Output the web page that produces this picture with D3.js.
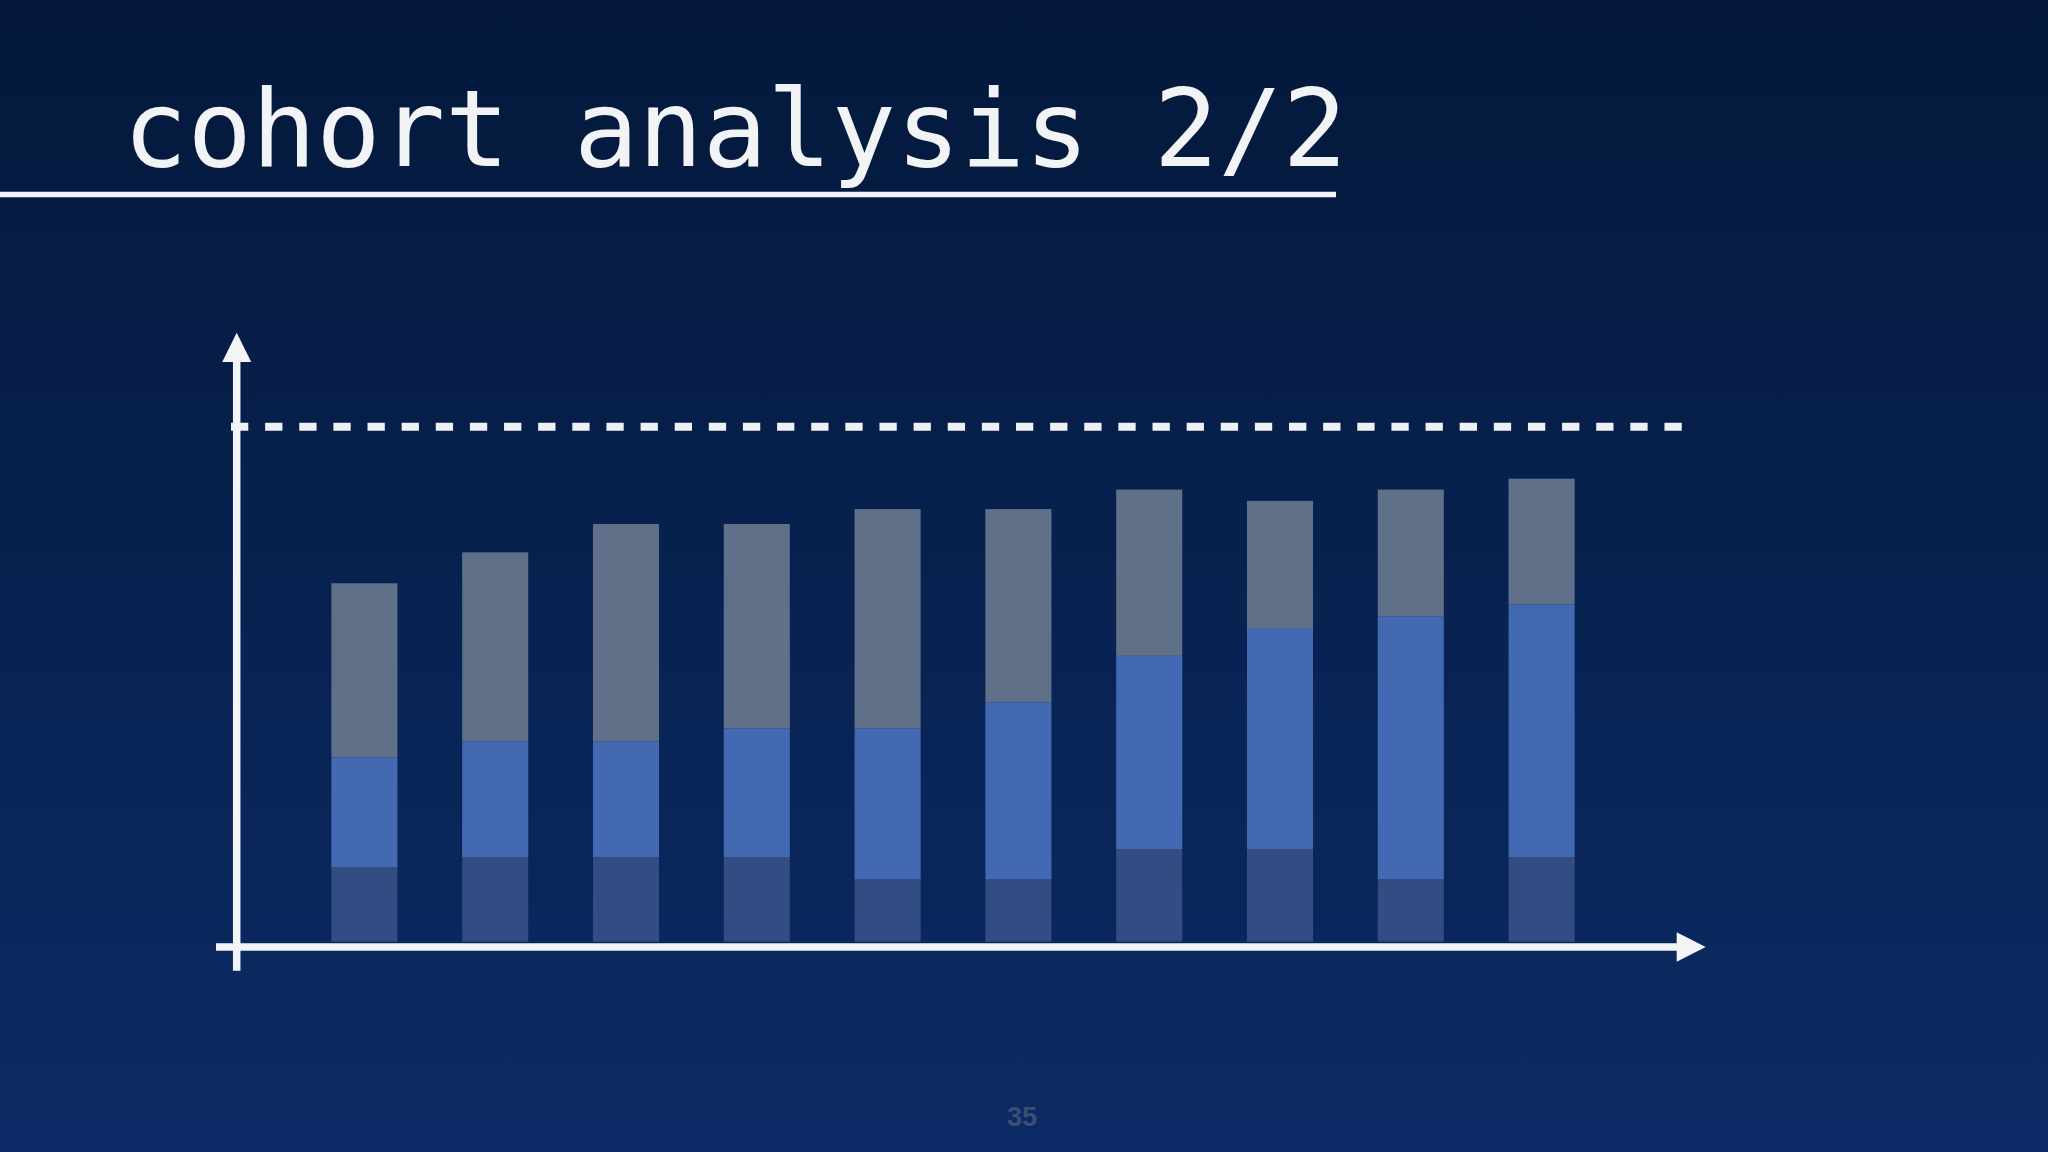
<!DOCTYPE html>
<html>
<head>
<meta charset="utf-8">
<script src="https://cdn.jsdelivr.net/npm/d3@7"></script>
<style>
  html, body { margin: 0; padding: 0; overflow: hidden; }
  body { width: 2048px; height: 1152px; }
</style>
</head>
<body>
<div id="chart"></div>
<script>
var svgWidth = 2048;
var svgHeight = 1152;

// Data (target line = 100)
var cohorts = ["c1", "c2", "c3", "c4", "c5", "c6", "c7", "c8", "c9", "c10"];
var lowerValues  = [14.5, 16.4, 16.4, 16.4, 12.1, 12.1, 18.0, 18.0, 12.1, 16.4];
var middleValues = [21.3, 22.5, 22.5, 25.0, 29.3, 34.4, 37.5, 42.9, 51.1, 49.1];
var upperValues  = [33.8, 36.7, 42.2, 39.7, 42.6, 37.5, 32.3, 24.7, 24.6, 24.4];
var seriesKeys = ["lower", "middle", "upper"];
var targetValue = 100;

var titleText = "cohort analysis 2/2";
var pageNumber = "35";

var colors = {
  lower: "#334c83",
  middle: "#4369b2",
  upper: "#5f7088"
};

var table = cohorts.map(function(c, i) {
  return { cohort: c, lower: lowerValues[i], middle: middleValues[i], upper: upperValues[i] };
});

var svg = d3.select("#chart")
  .append("svg")
  .attr("width", svgWidth)
  .attr("height", svgHeight);

// background gradient
var defs = svg.append("defs");
var grad = defs.append("linearGradient")
  .attr("id", "bg")
  .attr("x1", 0).attr("y1", 0).attr("x2", 0).attr("y2", 1);
grad.append("stop").attr("offset", "0%").attr("stop-color", "#03183a");
grad.append("stop").attr("offset", "100%").attr("stop-color", "#0c2b66");

svg.append("rect")
  .attr("width", svgWidth)
  .attr("height", svgHeight)
  .attr("fill", "url(#bg)");

// Title + underline
svg.append("text")
  .attr("x", 123)
  .attr("y", 166)
  .attr("fill", "#f2f3f5")
  .style("font-family", "'DejaVu Sans Mono', monospace")
  .style("font-size", "107px")
  .text(titleText);

svg.append("line")
  .attr("x1", 0).attr("x2", 1336)
  .attr("y1", 194.5).attr("y2", 194.5)
  .attr("stroke", "#f2f3f5")
  .attr("stroke-width", 5.5);

// Scales
var xScale = d3.scaleBand()
  .domain(cohorts)
  .range([299, 1607])
  .paddingInner(0.495)
  .paddingOuter(0.2475);

var yScale = d3.scaleLinear()
  .domain([0, targetValue])
  .range([941.7, 426.7]);

var stack = d3.stack().keys(seriesKeys);
var stacked = stack(table);

var chartGroup = svg.append("g");

chartGroup.selectAll("g.series")
  .data(stacked)
  .enter()
  .append("g")
  .attr("class", "series")
  .attr("fill", function(s) { return colors[s.key]; })
  .selectAll("rect")
  .data(function(s) { return s; })
  .enter()
  .append("rect")
  .attr("x", function(d) { return xScale(d.data.cohort); })
  .attr("width", xScale.bandwidth())
  .attr("y", function(d) { return yScale(d[1]); })
  .attr("height", function(d) { return yScale(d[0]) - yScale(d[1]); });

// Target dashed line
chartGroup.append("line")
  .attr("x1", 231).attr("x2", 1682)
  .attr("y1", yScale(targetValue)).attr("y2", yScale(targetValue))
  .attr("stroke", "#eef0f3")
  .attr("stroke-width", 8)
  .attr("stroke-dasharray", "17.3 16.83");

// Axes drawn as arrows
var axisColor = "#f2f4f6";
var yAxisX = 236.7;
var xAxisY = 947;

chartGroup.append("line")
  .attr("x1", yAxisX).attr("x2", yAxisX)
  .attr("y1", 970.7).attr("y2", 360)
  .attr("stroke", axisColor)
  .attr("stroke-width", 7.5);

chartGroup.append("path")
  .attr("d", d3.line()([[yAxisX - 14.5, 362], [yAxisX, 332.7], [yAxisX + 14.5, 362]]) + "Z")
  .attr("fill", axisColor);

chartGroup.append("line")
  .attr("x1", 216).attr("x2", 1679)
  .attr("y1", xAxisY).attr("y2", xAxisY)
  .attr("stroke", axisColor)
  .attr("stroke-width", 7.5);

chartGroup.append("path")
  .attr("d", d3.line()([[1676.7, xAxisY - 14.7], [1705.7, xAxisY], [1676.7, xAxisY + 14.7]]) + "Z")
  .attr("fill", axisColor);

// Page number
svg.append("text")
  .attr("x", 1022)
  .attr("y", 1126)
  .attr("text-anchor", "middle")
  .attr("fill", "#3c4f72")
  .style("font-family", "'Liberation Sans', Arial, sans-serif")
  .style("font-weight", "bold")
  .style("font-size", "27px")
  .text(pageNumber);
</script>
</body>
</html>
